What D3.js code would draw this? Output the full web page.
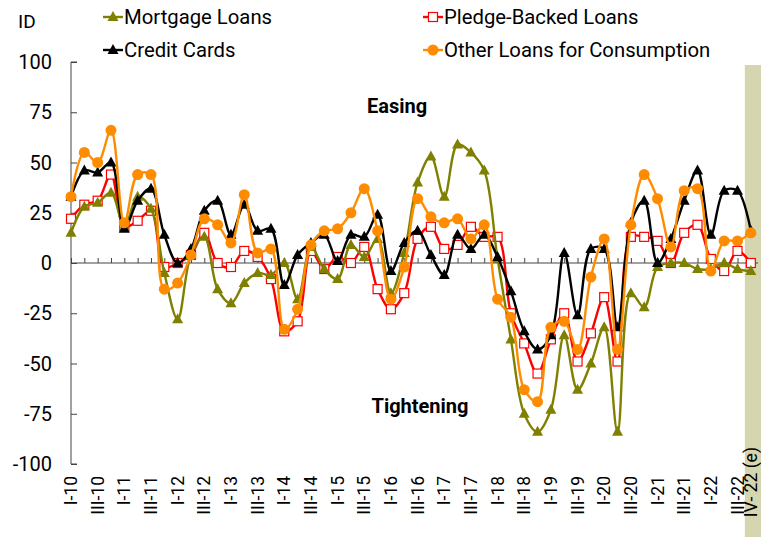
<!DOCTYPE html>
<html>
<head>
<meta charset="utf-8">
<script src="https://cdn.jsdelivr.net/npm/d3@7"></script>
<style>
  body { margin: 0; background: #fff; }
  svg { font-family: Roboto, "Noto Sans", sans-serif; }
</style>
</head>
<body>
<div id="chart"></div>
<script>
const quarters = [
  'I-10','II-10','III-10','IV-10','I-11','II-11','III-11','IV-11',
  'I-12','II-12','III-12','IV-12','I-13','II-13','III-13','IV-13',
  'I-14','II-14','III-14','IV-14','I-15','II-15','III-15','IV-15',
  'I-16','II-16','III-16','IV-16','I-17','II-17','III-17','IV-17',
  'I-18','II-18','III-18','IV-18','I-19','II-19','III-19','IV-19',
  'I-20','II-20','III-20','IV-20','I-21','II-21','III-21','IV-21',
  'I-22','II-22','III-22','IV- 22 (e)'
]
const tickLabels = [
  'I-10','III-10','I-11','III-11','I-12','III-12','I-13','III-13',
  'I-14','III-14','I-15','III-15','I-16','III-16','I-17','III-17',
  'I-18','III-18','I-19','III-19','I-20','III-20','I-21','III-21',
  'I-22','III-22','IV- 22 (e)'
]
const yTicks = [-100, -75, -50, -25, 0, 25, 50, 75, 100]

const mortgage = [15,28,30,35,18,33,27,-5,-28,4,13,-13,-20,-10,-5,-6,0,-18,8,-3,-8,9,3,12,-15,5,40,53,33,59,55,46,2,-38,-75,-84,-73,-36,-63,-50,-32,-84,-15,-22,-2,0,0,-3,-3,0,-3,-4]
const pledge = [22,29,31,44,18,21,26,-2,0,4,15,0,-2,6,3,-8,-34,-29,6,-3,3,0,8,-13,-23,-15,12,18,7,9,18,13,13,-25,-40,-55,-38,-25,-49,-35,-17,-49,13,13,11,0,15,19,2,-4,6,0]
const credit = [33,46,45,50,17,31,37,14,0,7,26,31,14,29,16,17,-11,4,10,14,1,14,13,24,-4,10,16,4,-6,14,7,14,3,-14,-34,-43,-36,5,-26,7,7,-32,20,31,0,12,31,46,14,36,36,16]
const other = [33,55,50,66,20,44,44,-13,-10,4,22,19,10,34,5,7,-33,-23,9,16,17,25,37,16,-18,-2,32,23,20,22,12,19,-18,-27,-63,-69,-32,-29,-43,-7,12,-43,19,44,32,8,36,37,-4,11,11,15]

const series = [
  { name: 'Mortgage Loans', values: mortgage, color: '#808000', marker: 'triangle', fill: '#808000' },
  { name: 'Pledge-Backed Loans', values: pledge, color: '#ff0000', marker: 'square', fill: '#ffffff' },
  { name: 'Credit Cards', values: credit, color: '#000000', marker: 'triangle', fill: '#000000' },
  { name: 'Other Loans for Consumption', values: other, color: '#ff8c00', marker: 'circle', fill: '#ff8c00' }
]
// draw order: pledge, mortgage, credit, other on top
const drawOrder = [1, 0, 2, 3]

const width = 761, height = 537
const margin = { top: 62, left: 71, bottom: 73 }

const svg = d3.select('#chart').append('svg').attr('width', width).attr('height', height)

const x = d3.scalePoint().domain(quarters).range([margin.left, margin.left + 13.33 * 51])
const y = d3.scaleLinear().domain([-100, 100]).range([height - margin.bottom, margin.top])

// forecast band
svg.append('rect')
  .attr('x', x(quarters[51]) - 6).attr('y', 65)
  .attr('width', width - x(quarters[51]) + 6).attr('height', height - 65)
  .attr('fill', '#d5d5b0')

// y axis
const yAxis = svg.append('g').attr('transform', `translate(${margin.left},0)`)
  .call(d3.axisRight(y).tickValues(yTicks).tickSize(6).tickFormat(''))
yAxis.select('.domain').attr('stroke', '#444').attr('d', `M6,${y(100)}H0V${y(-100)}H6`)
yAxis.selectAll('.tick line').attr('stroke', '#444')
svg.append('g').selectAll('text').data(yTicks).join('text')
  .attr('x', 52).attr('y', d => y(d)).attr('dy', '0.36em')
  .attr('text-anchor', 'end').attr('font-size', 20).attr('fill', '#000')
  .text(d => d)

svg.append('text').attr('x', 18).attr('y', 28).attr('font-size', 19).attr('fill', '#000').text('ID')

// x axis at zero
const xAxis = svg.append('g').attr('transform', `translate(0,${y(0)})`)
  .call(d3.axisTop(x).tickSize(5).tickFormat(''))
xAxis.select('.domain').attr('stroke', '#444').attr('d', `M${margin.left},0H758`)
xAxis.selectAll('.tick line').attr('stroke', '#444')

svg.append('g').selectAll('text').data(tickLabels).join('text')
  .attr('transform', (d, i) => `translate(${x(d) + 6},${i === tickLabels.length - 1 ? 447 : 476}) rotate(-90)`)
  .attr('text-anchor', 'end').attr('font-size', 17.5).attr('fill', '#000')
  .text(d => d)

// annotations
svg.append('text').attr('x', 397).attr('y', 113).attr('text-anchor', 'middle')
  .attr('font-size', 20).attr('font-weight', 'bold').attr('fill', '#000').text('Easing')
svg.append('text').attr('x', 420).attr('y', 413).attr('text-anchor', 'middle')
  .attr('font-size', 20).attr('font-weight', 'bold').attr('fill', '#000').text('Tightening')

const line = d3.line()
  .x((d, i) => x(quarters[i]))
  .y(d => y(d))
  .curve(d3.curveCatmullRom.alpha(0.5))

function drawMarker (g, s, cx, cy) {
  if (s.marker === 'triangle') {
    g.append('path').attr('d', `M${cx},${cy - 6}L${cx + 5.5},${cy + 4}L${cx - 5.5},${cy + 4}Z`)
      .attr('fill', s.fill)
  } else if (s.marker === 'square') {
    g.append('rect').attr('x', cx - 4.5).attr('y', cy - 4.5).attr('width', 9).attr('height', 9)
      .attr('fill', s.fill).attr('stroke', s.color).attr('stroke-width', 1.2)
  } else {
    g.append('circle').attr('cx', cx).attr('cy', cy).attr('r', 5.5).attr('fill', s.fill)
  }
}

drawOrder.forEach(k => {
  const s = series[k]
  const g = svg.append('g')
  g.append('path').datum(s.values).attr('d', line)
    .attr('fill', 'none').attr('stroke', s.color).attr('stroke-width', 2.4)
  s.values.forEach((v, i) => drawMarker(g, s, x(quarters[i]), y(v)))
})

// legend
const legendPos = [[103, 17], [423, 17], [103, 50], [423, 50]]
series.forEach((s, k) => {
  const [lx, ly] = legendPos[k]
  const g = svg.append('g')
  g.append('line').attr('x1', lx).attr('x2', lx + 20).attr('y1', ly).attr('y2', ly)
    .attr('stroke', s.color).attr('stroke-width', 2.4)
  drawMarker(g, s, lx + 10, ly)
  g.append('text').attr('x', lx + 21).attr('y', ly).attr('dy', '0.36em')
    .attr('font-size', 20.3).attr('fill', '#000').text(s.name)
})
</script>
</body>
</html>
